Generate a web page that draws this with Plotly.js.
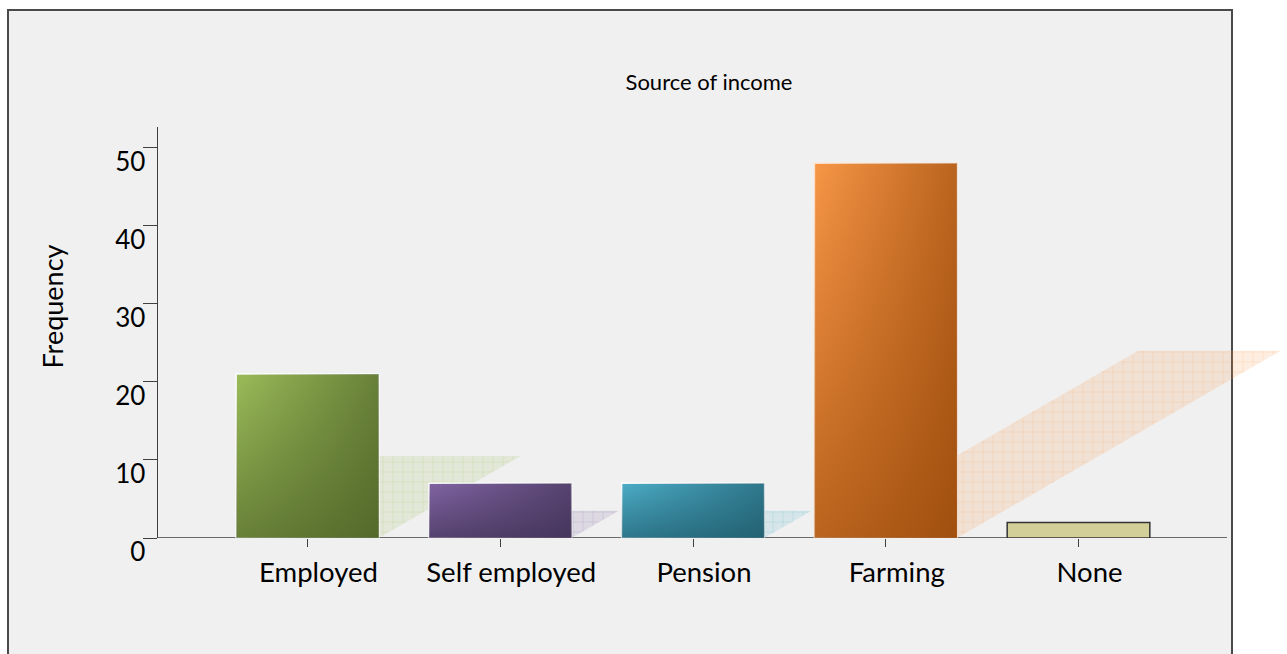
<!DOCTYPE html>
<html>
<head>
<meta charset="utf-8">
<script src="https://cdn.plot.ly/plotly-3.0.1.min.js"></script>
<style>
  html, body { margin: 0; padding: 0; background: #ffffff; overflow: hidden; }
  #frame { position: absolute; left: 7px; top: 9px; width: 1226px; height: 700px;
           box-sizing: border-box; border: 2px solid #4a4a4a; background: #f0f0f0; }
  #chart { position: absolute; left: 0; top: 0; width: 1287px; height: 654px; }
</style>
</head>
<body>
<div id="frame"></div>
<div id="chart"></div>
<script>
// ---- data ----
const categories = ['Employed', 'Self employed', 'Pension', 'Farming', 'None'];
const frequency  = [21, 7, 7, 48, 2];
const yTickVals  = [0, 10, 20, 30, 40, 50];
const yTickText  = ['0', '10', '20', '30', '40', '50'];

// ---- styling ----
const barLight = ['#9bbb59', '#8064a2', '#4bacc6', '#f79646', '#d3cf98'];
const barDark  = [[70, 90, 34], [58, 44, 78], [28, 84, 100], [145, 66, 4], null];
const barLine  = ['rgba(255,255,255,0.9)', 'rgba(255,255,255,0.9)', 'rgba(255,255,255,0.9)', 'rgba(255,230,210,0.9)', '#333333'];
const FONT = 'Lato, Carlito, Calibri, "Open Sans", sans-serif';

const W = 1287, H = 654;
const M = { l: 158, r: 0, t: 127, b: 116 };
const pxPerCat = 192.75, pxPerUnit = 7.807;
const plotW = W - M.l - M.r, plotH = H - M.t - M.b;
const xMin = -149.5 / pxPerCat;
const xRange = [xMin, xMin + plotW / pxPerCat];
const yRange = [0, plotH / pxPerUnit];
const barW = 0.74;
const shear = 0.035;      // shadow horizontal shift per unit of frequency (category units)
const shadowScale = 0.5;  // shadow height relative to bar height

const rgba = (c, a) => `rgba(${c[0]},${c[1]},${c[2]},${a})`;
const hexRgb = h => [1, 3, 5].map(i => parseInt(h.slice(i, i + 2), 16));

const traces = [];

// shadows (drawn on main subplot, beneath the bars)
frequency.forEach((v, i) => {
  if (!barDark[i]) return;
  const L = i - barW / 2, R = i + barW / 2;
  const s = shear * v, h = v * shadowScale;
  const yInt = Math.min(h, (R - L) / s * h);
  const c = hexRgb(barLight[i]);
  traces.push({
    type: 'scatter', mode: 'lines', xaxis: 'x', yaxis: 'y',
    x: [R, R + s, Math.max(L + s, R), R, R],
    y: [0, h, h, yInt, 0],
    fill: 'toself', line: { width: 0 },
    fillcolor: rgba(c, 0.16),
    fillpattern: { shape: '+', size: 10, solidity: 0.12, fgcolor: rgba(c, 0.28), bgcolor: rgba(c, 0.16), fillmode: 'replace' },
    hoverinfo: 'skip', showlegend: false
  });
});

// bars (overlay subplot, above shadows)
traces.push({
  type: 'bar', xaxis: 'x', yaxis: 'y2',
  x: categories.map((c, i) => i), y: frequency, width: barW,
  text: categories, hovertemplate: '%{text}: %{y}<extra></extra>',
  textposition: 'none',
  marker: { color: barLight, line: { color: barLine, width: 1.5 } },
  showlegend: false
});

// gradient shading on the bars
frequency.forEach((v, i) => {
  if (!barDark[i]) return;
  const L = i - barW / 2, R = i + barW / 2;
  const d = barDark[i];
  const poly = { x: [L, R, R, L, L], y: [0, 0, v, v, 0] };
  traces.push({
    type: 'scatter', mode: 'lines', xaxis: 'x', yaxis: 'y2', x: poly.x, y: poly.y,
    fill: 'toself', line: { width: 0 },
    fillgradient: { type: 'horizontal', colorscale: [[0, rgba(d, 0)], [1, rgba(d, 0.6)]] },
    hoverinfo: 'skip', showlegend: false
  });
  traces.push({
    type: 'scatter', mode: 'lines', xaxis: 'x', yaxis: 'y2', x: poly.x, y: poly.y,
    fill: 'toself', line: { width: 0 },
    fillgradient: { type: 'vertical', colorscale: [[0, rgba(d, 0.6)], [1, rgba(d, 0)]] },
    hoverinfo: 'skip', showlegend: false
  });
});

const layout = {
  width: W, height: H,
  margin: M,
  paper_bgcolor: 'rgba(0,0,0,0)', plot_bgcolor: 'rgba(0,0,0,0)',
  font: { family: FONT, color: '#000000' },
  title: {
    text: 'Source of income', font: { family: FONT, size: 22, color: '#000' },
    xref: 'container', yref: 'container', x: 709 / W, y: 1 - 82 / H,
    xanchor: 'center', yanchor: 'middle'
  },
  xaxis: {
    range: xRange, showgrid: false, zeroline: false, showline: false,
    tickmode: 'array', tickvals: categories.map((c, i) => i), ticktext: categories,
    ticks: 'outside', ticklen: 8, tickwidth: 1, tickcolor: '#404040',
    tickfont: { family: FONT, size: 27.5, color: '#000' },
    ticklabelshift: 11, ticklabelstandoff: 2,
    fixedrange: true
  },
  yaxis: {
    range: yRange, showgrid: false, zeroline: false,
    showline: true, linecolor: '#404040', linewidth: 1.5,
    tickmode: 'array', tickvals: yTickVals, ticktext: yTickText,
    ticks: 'outside', ticklen: 14, tickwidth: 1, tickcolor: '#404040',
    tickfont: { family: FONT, size: 26, color: '#000' },
    ticklabelshift: 14, ticklabelstandoff: -8,
    fixedrange: true
  },
  yaxis2: { range: yRange, overlaying: 'y', visible: false, fixedrange: true },
  annotations: [{
    text: 'Frequency', textangle: -90, showarrow: false,
    xref: 'paper', yref: 'paper',
    x: (52 - M.l) / plotW, y: (H - M.b - 306.5) / plotH,
    xanchor: 'center', yanchor: 'middle',
    font: { family: FONT, size: 27, color: '#000' }
  }],
  shapes: [{
    type: 'line', layer: 'below', xref: 'paper', yref: 'y',
    x0: 0, x1: (1227 - M.l) / plotW, y0: 0, y1: 0,
    line: { color: '#6a6a6a', width: 1.8 }
  }],
  showlegend: false
};

Plotly.newPlot('chart', traces, layout, { displayModeBar: false, staticPlot: true });
</script>
</body>
</html>
